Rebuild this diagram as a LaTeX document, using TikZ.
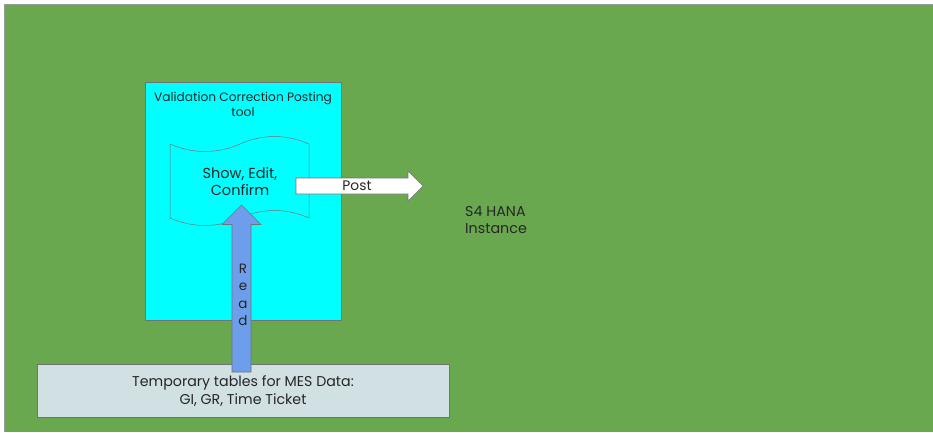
\documentclass[tikz,border=0pt]{standalone}
\usepackage{fontspec}
\setmainfont{Poppins}
\begin{document}
\begin{tikzpicture}[x=1pt,y=-1pt,
  txt/.style={inner sep=0pt, align=center, text=black!85},
  edge/.style={draw=black!55, line width=0.6pt}]
\definecolor{bggreen}{HTML}{6AA84F}
\definecolor{toolcyan}{HTML}{00FFFF}
\definecolor{tblgray}{HTML}{D0E0E3}
\definecolor{readblue}{HTML}{6D9EEB}
\useasboundingbox (0,0) rectangle (933,432);
% background
\fill[white] (0,0) rectangle (933,432);
\fill[bggreen] (4,4) rectangle (933,432);
\draw[black!40, line width=0.8pt] (933,4) -- (4,4) -- (4,432);
% tool box
\draw[edge, fill=toolcyan] (145,82) rectangle (341,320);
\node[txt, font=\fontsize{12.2}{15}\selectfont] (title) at (243,104.5) {Validation Correction Posting\\tool};
% document (wave) shape
\draw[edge, line width=0.5pt] (170,144)
  .. controls (193,154) and (217,154) .. (240,144)
  .. controls (263,134) and (286,134) .. (309,144)
  -- (309,218)
  .. controls (286,208) and (263,208) .. (240,218)
  .. controls (217,228) and (193,228) .. (170,218) -- cycle;
\node[txt, font=\fontsize{14.5}{17}\selectfont] (sec) at (240,181.5) {Show, Edit,\\Confirm};
% bottom table box
\draw[edge, fill=tblgray] (37,364.5) rectangle (449,417);
\node[txt, font=\fontsize{14.2}{18}\selectfont] (tbl) at (243,391) {Temporary tables for MES Data:\\GI, GR, Time Ticket};
% read arrow
\draw[edge, fill=readblue] (232,372) -- (232,224.5) -- (222,224.5) -- (241.5,205) -- (261,224.5) -- (251,224.5) -- (251,372) -- cycle;
\node[txt, font=\fontsize{13.5}{17.5}\selectfont] (read) at (243,295) {R\\e\\a\\d};
% post arrow
\draw[edge, fill=white] (296,178) -- (408,178) -- (408,171) -- (423,186) -- (408,201) -- (408,194) -- (296,194) -- cycle;
\node[txt, font=\fontsize{13.8}{14}\selectfont] (post) at (357,186) {Post};
% S4 HANA
\node[txt, align=left, anchor=west, font=\fontsize{14.3}{17}\selectfont] (s4) at (465,219.5) {S4 HANA\\Instance};
\end{tikzpicture}
\end{document}
